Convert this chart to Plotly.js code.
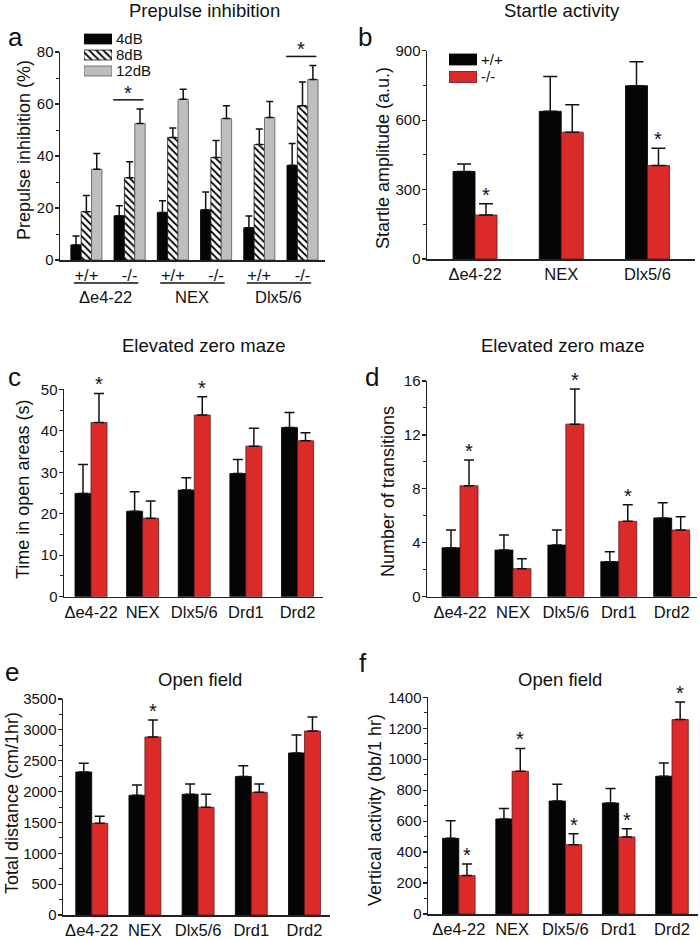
<!DOCTYPE html>
<html>
<head>
<meta charset="utf-8">
<script src="https://cdn.plot.ly/plotly-3.0.1.min.js"></script>
<style>html,body{margin:0;padding:0;background:#fff;}#chart{width:700px;height:940px;}</style>
</head>
<body>
<div id="chart"></div>
<script>
// ---------- DATA ----------
// Panel a: Prepulse inhibition (%)
const groupsA = ['Δe4-22', 'NEX', 'Dlx5/6'];
const genotypes = ['+/+', '-/-'];
// order: Δe4-22 +/+, Δe4-22 -/-, NEX +/+, NEX -/-, Dlx5/6 +/+, Dlx5/6 -/-
const pi4 = [5.8, 17.0, 18.3, 19.3, 12.4, 36.4];
const pi4Err = [3.4, 3.9, 4.5, 6.9, 4.5, 8.4];
const pi8 = [18.6, 31.6, 47.1, 39.4, 44.4, 59.3];
const pi8Err = [6.2, 6.2, 3.7, 6.6, 6.0, 9.2];
const pi12 = [34.9, 52.5, 61.8, 54.4, 54.8, 69.4];
const pi12Err = [6.1, 5.6, 3.9, 4.9, 6.2, 5.4];
const sigA = [0, 1, 0, 0, 0, 1];
const legendA = ['4dB', '8dB', '12dB'];

// Panel b: Startle amplitude (a.u.)
const catsB = ['Δe4-22', 'NEX', 'Dlx5/6'];
const startleWT = [378, 638, 749];
const startleWTErr = [32, 150, 103];
const startleKO = [190, 548, 404];
const startleKOErr = [49, 118, 75];
const sigB = [1, 0, 1];
const legendB = ['+/+', '-/-'];

// Panels c-f categories
const cats5 = ['Δe4-22', 'NEX', 'Dlx5/6', 'Drd1', 'Drd2'];
// Panel c: Time in open areas (s)
const openWT = [24.9, 20.6, 25.7, 29.7, 40.8];
const openWTErr = [7.0, 4.7, 3.0, 3.4, 3.6];
const openKO = [42.0, 18.9, 43.8, 36.3, 37.6];
const openKOErr = [7.0, 4.2, 4.4, 4.3, 1.9];
const sigC = [1, 0, 1, 0, 0];
// Panel d: Number of transitions
const transWT = [3.63, 3.46, 3.83, 2.6, 5.84];
const transWTErr = [1.32, 1.11, 1.12, 0.74, 1.13];
const transKO = [8.23, 2.08, 12.8, 5.59, 4.95];
const transKOErr = [1.91, 0.74, 2.6, 1.23, 0.98];
const sigD = [1, 0, 1, 1, 0];
// Panel e: Total distance (cm/1hr)
const distWT = [2318, 1939, 1956, 2245, 2626];
const distWTErr = [140, 168, 167, 175, 291];
const distKO = [1486, 2885, 1745, 1988, 2982];
const distKOErr = [113, 275, 211, 135, 227];
const sigE = [0, 1, 0, 0, 0];
// Panel f: Vertical activity (bb/1 hr)
const vertWT = [489, 614, 730, 717, 890];
const vertWTErr = [114, 67, 108, 93, 86];
const vertKO = [248, 922, 448, 498, 1256];
const vertKOErr = [75, 148, 71, 53, 114];
const sigF = [1, 1, 1, 1, 1];

// ---------- STYLE / HELPERS ----------
const W = 700, H = 940;
const FONT = 'Liberation Sans, Arial, sans-serif';
const BLACK = '#050505', RED = '#dc2a2b', GREY = '#bebebe';
const AX = '#222';
const px = v => v / W;
const py = v => (H - v) / H;
const HATCH = {shape: '\\', fgcolor: '#000', bgcolor: '#fff', size: 5, solidity: 0.35};

const catsA = [];
groupsA.forEach(g => genotypes.forEach(t => catsA.push(g + ' ' + t)));
const ticktextA = catsA.map((c, i) => genotypes[i % 2]);

function errY(arr, w) {
  return {type: 'data', symmetric: false, array: arr, arrayminus: arr.map(() => 0),
          color: '#111', thickness: 1.5, width: w};
}
function barTrace(x, y, err, xa, ya, width, offset, color, lineColor, capW, pattern) {
  const m = {color: color, line: {color: lineColor, width: 0.8}};
  if (pattern) m.pattern = pattern;
  return {type: 'bar', x: x, y: y, xaxis: xa, yaxis: ya, width: width, offset: offset,
          marker: m, error_y: errY(err, capW), showlegend: false, hoverinfo: 'skip'};
}
function yAxis(domain, range, dtick, minor, xanchor) {
  return {domain: domain, range: range, dtick: dtick, tick0: 0, anchor: xanchor,
    ticks: 'outside', ticklen: 4, tickwidth: 1.2, tickcolor: AX, ticklabelstandoff: -2,
    showline: true, linecolor: AX, linewidth: 1.5, showgrid: false, zeroline: false,
    tickfont: {size: 15, color: '#111'},
    minor: {dtick: minor, tick0: 0, ticks: 'outside', ticklen: 2.5, tickwidth: 1, tickcolor: AX, showgrid: false},
    fixedrange: true};
}
function xAxis(domain, range, yanchor, extra) {
  return Object.assign({domain: domain, range: range, type: 'category', anchor: yanchor,
    showline: true, linecolor: AX, linewidth: 1.5, ticks: '', showgrid: false, zeroline: false,
    tickfont: {size: 16.5, color: '#111'}, fixedrange: true}, extra || {});
}
function legendAxis(domain, labels, xa) {
  return {domain: domain, type: 'category', categoryorder: 'array', categoryarray: labels,
    autorange: 'reversed', side: 'right', anchor: xa,
    tickmode: 'array', tickvals: labels, ticktext: labels, ticklabelstandoff: 3,
    showline: false, ticks: '', showgrid: false, zeroline: false,
    tickfont: {size: 15, color: '#111'}, fixedrange: true};
}
function legendBar(label, xa, ya, w, color, lineColor, pattern) {
  const m = {color: color, line: {color: lineColor, width: 0.8}};
  if (pattern) m.pattern = pattern;
  return {type: 'bar', orientation: 'h', y: [label], x: [1], xaxis: xa, yaxis: ya, width: w,
    marker: m, showlegend: false, hoverinfo: 'skip'};
}

const data = [];
const annotations = [];
const shapes = [];

function star(xref, yref, x, y, shift) {
  annotations.push({xref: xref, yref: yref, x: x, y: y, text: '*', showarrow: false,
    yanchor: 'bottom', yshift: shift, font: {size: 20, color: '#111'}});
}
function paperText(text, x, y, size, extra) {
  annotations.push(Object.assign({xref: 'paper', yref: 'paper', x: px(x), y: py(y), text: text,
    showarrow: false, xanchor: 'center', yanchor: 'middle', font: {size: size, color: '#111'}}, extra || {}));
}

// ---------- PANEL a ----------
const wA = 0.24;
data.push(barTrace(catsA, pi4, pi4Err, 'x', 'y', wA, -0.36, BLACK, '#000', 3.5));
data.push(barTrace(catsA, pi8, pi8Err, 'x', 'y', wA, -0.12, '#fff', '#111', 3.5, HATCH));
data.push(barTrace(catsA, pi12, pi12Err, 'x', 'y', wA, 0.12, GREY, '#555', 3.5));
sigA.forEach((s, i) => {
  if (!s) return;
  const top = Math.max(pi4[i] + pi4Err[i], pi8[i] + pi8Err[i], pi12[i] + pi12Err[i]) + 3.5;
  shapes.push({type: 'line', xref: 'x', yref: 'y', x0: i - 0.38, x1: i + 0.32, y0: top, y1: top,
    line: {color: '#111', width: 1.5}});
  star('x', 'y', i - 0.03, top, -6);
});
groupsA.forEach((g, gi) => {
  shapes.push({type: 'line', xref: 'x', yref: 'paper', x0: gi * 2 - 0.29, x1: gi * 2 + 1.2,
    y0: py(283), y1: py(283), line: {color: '#111', width: 1.3}});
  annotations.push({xref: 'x', yref: 'paper', x: gi * 2 + 0.45, y: py(297), text: g, showarrow: false,
    yanchor: 'middle', font: {size: 16.5, color: '#111'}});
});

// legends drawn as small horizontal bars on their own axes
data.push(legendBar(legendA[0], 'x7', 'y7', 0.62, BLACK, '#000'));
data.push(legendBar(legendA[1], 'x7', 'y7', 0.62, '#fff', '#111', HATCH));
data.push(legendBar(legendA[2], 'x7', 'y7', 0.62, GREY, '#555'));
data.push(legendBar(legendB[0], 'x8', 'y8', 0.63, BLACK, '#000'));
data.push(legendBar(legendB[1], 'x8', 'y8', 0.63, RED, '#5a1a1a'));

// ---------- PANEL b ----------
const wB = 0.255;
data.push(barTrace(catsB, startleWT, startleWTErr, 'x2', 'y2', wB, -wB, BLACK, '#000', 7));
data.push(barTrace(catsB, startleKO, startleKOErr, 'x2', 'y2', wB, 0, RED, '#5a1a1a', 7));
sigB.forEach((s, i) => { if (s) star('x2', 'y2', i + wB / 2, startleKO[i] + startleKOErr[i], -4); });

// ---------- PANELS c-f ----------
function twoBar(wt, wtErr, ko, koErr, sig, xa, ya, w, cap) {
  data.push(barTrace(cats5, wt, wtErr, xa, ya, w, -w, BLACK, '#000', cap));
  data.push(barTrace(cats5, ko, koErr, xa, ya, w, 0, RED, '#5a1a1a', cap));
  sig.forEach((s, i) => { if (s) star(xa, ya, i + w / 2, ko[i] + koErr[i], -4); });
}
twoBar(openWT, openWTErr, openKO, openKOErr, sigC, 'x3', 'y3', 0.31, 5);
twoBar(transWT, transWTErr, transKO, transKOErr, sigD, 'x4', 'y4', 0.34, 5);
twoBar(distWT, distWTErr, distKO, distKOErr, sigE, 'x5', 'y5', 0.30, 5);
twoBar(vertWT, vertWTErr, vertKO, vertKOErr, sigF, 'x6', 'y6', 0.306, 5);

// ---------- TITLES, AXIS TITLES & PANEL LETTERS ----------
paperText('Prepulse inhibition', 204, 11, 18.5);
paperText('Startle activity', 562, 11, 18.5);
paperText('Elevated zero maze', 204, 345, 18.5);
paperText('Elevated zero maze', 563, 345, 18.5);
paperText('Open field', 200, 680, 18.5);
paperText('Open field', 560, 680, 18.5);
const rot = {textangle: -90};
paperText('Prepulse inhibition (%)', 24, 150, 18, rot);
paperText('Startle amplitude (a.u.)', 383, 158, 18, rot);
paperText('Time in open areas (s)', 23, 490, 18, rot);
paperText('Number of transitions', 388, 492, 18, rot);
paperText('Total distance (cm/1hr)', 12, 803, 18, rot);
paperText('Vertical activity (bb/1 hr)', 375, 810, 18, rot);
paperText('a', 15, 37, 26);
paperText('b', 365, 37, 26);
paperText('c', 14, 377, 26);
paperText('d', 372, 377, 26);
paperText('e', 12, 672, 26);
paperText('f', 363, 663, 26);

// ---------- LAYOUT ----------
const layout = {
  width: W, height: H, margin: {l: 0, r: 0, t: 0, b: 0},
  paper_bgcolor: '#fff', plot_bgcolor: 'rgba(0,0,0,0)',
  font: {family: FONT, color: '#111'},
  barmode: 'overlay', showlegend: false,
  xaxis: xAxis([px(60), px(325)], [-0.61, 5.52], 'y', {tickvals: catsA, ticktext: ticktextA}),
  yaxis: yAxis([py(260), py(52)], [0, 80], 20, 10, 'x'),
  xaxis2: xAxis([px(427), px(695)], [-0.557, 2.551], 'y2'),
  yaxis2: yAxis([py(259), py(50.7)], [0, 900], 300, 150, 'x2'),
  xaxis3: xAxis([px(64), px(323)], [-0.523, 4.494], 'y3'),
  yaxis3: yAxis([py(596.7), py(389.3)], [0, 50], 10, 5, 'x3'),
  xaxis4: xAxis([px(427), px(697)], [-0.624, 4.478], 'y4'),
  yaxis4: yAxis([py(596.7), py(381)], [0, 16], 4, 2, 'x4'),
  xaxis5: xAxis([px(63), px(330)], [-0.54, 4.48], 'y5'),
  yaxis5: yAxis([py(915), py(699)], [0, 3500], 500, 250, 'x5'),
  xaxis6: xAxis([px(428), px(698)], [-0.578, 4.488], 'y6'),
  yaxis6: yAxis([py(914), py(697.3)], [0, 1400], 200, 100, 'x6'),
  xaxis7: {domain: [px(84), px(112)], range: [0, 1], visible: false, anchor: 'y7', fixedrange: true},
  yaxis7: legendAxis([py(79), py(31)], legendA, 'x7'),
  xaxis8: {domain: [px(449), px(477)], range: [0, 1], visible: false, anchor: 'y8', fixedrange: true},
  yaxis8: legendAxis([py(85.75), py(50.75)], legendB, 'x8'),
  annotations: annotations,
  shapes: shapes
};

Plotly.newPlot('chart', data, layout, {displayModeBar: false, staticPlot: true});
</script>
</body>
</html>
